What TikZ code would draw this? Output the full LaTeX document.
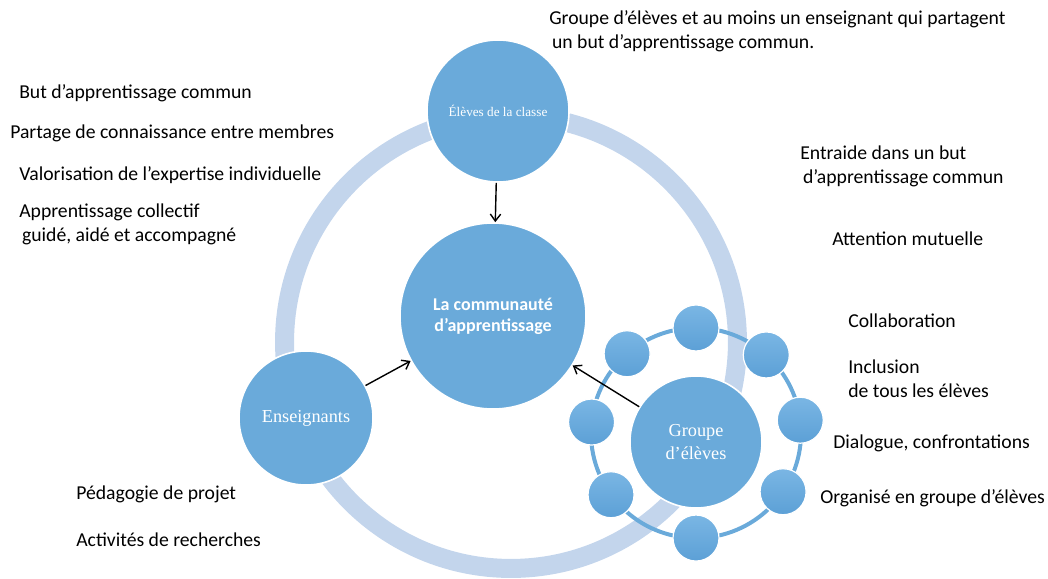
\documentclass[tikz,border=0pt]{standalone}
\usepackage{fontspec}
\setmainfont{Carlito}
\newfontfamily\timesfont{Liberation Serif}
\usetikzlibrary{arrows.meta,calc}

\definecolor{bolblauw}{RGB}{106,170,218}
\definecolor{perlehaut}{RGB}{122,182,228}
\definecolor{perlebas}{RGB}{92,160,214}
\definecolor{ringblauw}{RGB}{195,213,236}

\tikzstyle{bulle} = [circle, fill=bolblauw, draw=white, line width=0.04cm, text=white, align=center, inner sep=0pt]
\tikzstyle{perle} = [circle, top color=perlehaut, bottom color=perlebas, draw=white, line width=0.03cm, minimum size=1.15cm, inner sep=0pt]
\tikzstyle{etiq} = [anchor=west, align=left, inner sep=0pt, font=\fontsize{14}{17}\selectfont]
\tikzstyle{fleche} = [-{Straight Barb[length=1.75mm,width=2.6mm]}, line width=0.035cm]

\begin{document}
\begin{tikzpicture}[x=0.025cm, y=-0.025cm]
\useasboundingbox (0,0) rectangle (1048,579);
%grand anneau
\coordinate (cercle) at (511,342);
\draw[ringblauw, line width=0.475cm] (cercle) circle[radius=5.66cm];
%anneau du groupe
\coordinate (anneau) at (696,433);
\draw[bolblauw, line width=0.1cm] (anneau) circle[radius=2.625cm];
%begin bulles
\node[bulle, minimum size=3.55cm, font=\timesfont\fontsize{9.4}{11}\selectfont] (eleves) at (498,111) {Élèves de la classe};
\node[bulle, minimum size=4.65cm, font=\bfseries\fontsize{12.8}{15}\selectfont] (communaute) at (493,316) {La communauté\\d’apprentissage};
\node[bulle, minimum size=3.35cm, font=\timesfont\fontsize{13}{17}\selectfont] (enseignants) at (306,418) {Enseignants};
%end bulles
%begin perles
\foreach \a [count=\i] in {90,48,7,-34,-90,-144,174,131}
    \node[perle] (perle\i) at ($(anneau)+(\a:2.625cm)$) {};
%end perles
\node[bulle, minimum size=3.3cm, font=\timesfont\fontsize{13}{17}\selectfont] (groupe) at (696,442) {Groupe\\d’élèves};
%begin fleches
\draw[fleche] (eleves) -- (communaute);
\draw[fleche] (enseignants) -- (communaute);
\draw[fleche] (groupe) -- (communaute);
%end fleches
%begin textes haut
\node[etiq] (definition) at (549,31) {Groupe d’élèves et au moins un enseignant qui partagent\\\hspace{2pt}un but d’apprentissage commun.};
%end textes haut
%begin textes gauche
\node[etiq] (but) at (19,93) {But d’apprentissage commun};
\node[etiq] (partage) at (10,133) {Partage de connaissance entre membres};
\node[etiq] (valorisation) at (19,175) {Valorisation de l’expertise individuelle};
\node[etiq] (collectif) at (19,224.5) {Apprentissage collectif\\\hspace{2pt}guidé, aidé et accompagné};
\node[etiq] (pedagogie) at (76,494) {Pédagogie de projet};
\node[etiq] (recherches) at (76,540) {Activités de recherches};
%end textes gauche
%begin textes droite
\node[etiq] (entraide) at (800,166.5) {Entraide dans un but\\\hspace{2pt}d’apprentissage commun};
\node[etiq] (attention) at (832,239) {Attention mutuelle};
\node[etiq] (collaboration) at (848,321) {Collaboration};
\node[etiq] (inclusion) at (848,378.5) {Inclusion\\de tous les élèves};
\node[etiq] (dialogue) at (833,443) {Dialogue, confrontations};
\node[etiq] (organise) at (820,498) {Organisé en groupe d’élèves};
%end textes droite
\end{tikzpicture}
\end{document}
